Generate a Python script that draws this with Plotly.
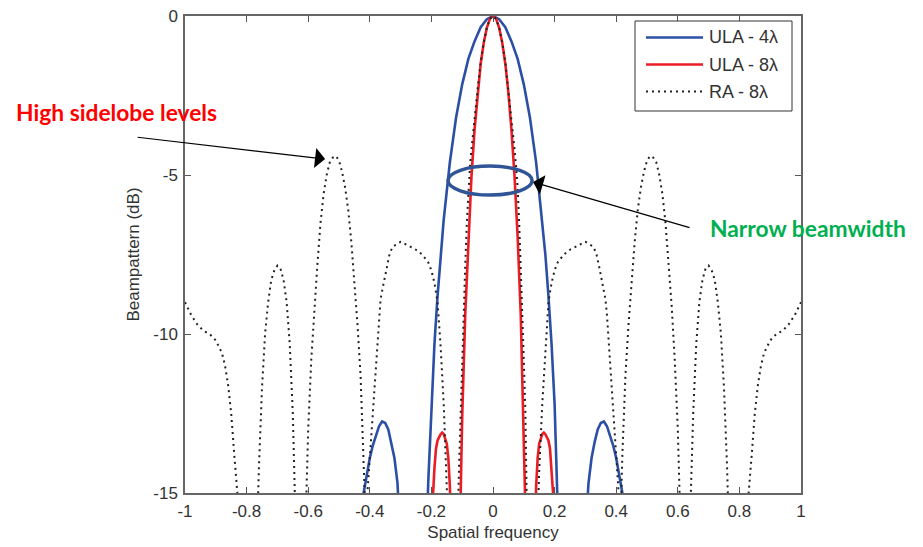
import plotly.graph_objects as go

# ---------------- data ----------------
x_ticks = [-1, -0.8, -0.6, -0.4, -0.2, 0, 0.2, 0.4, 0.6, 0.8, 1]
x_tick_text = ["-1", "-0.8", "-0.6", "-0.4", "-0.2", "0", "0.2", "0.4", "0.6", "0.8", "1"]
y_ticks = [-15, -10, -5, 0]
y_tick_text = ["-15", "-10", "-5", "0"]

# ULA - 4 lambda
ula4_u = [-0.50, -0.48, -0.46, -0.44, -0.43, -0.42, -0.41, -0.40, -0.39, -0.38, -0.37, -0.36, -0.35, -0.34,
          -0.33, -0.32, -0.31, -0.30, -0.29, -0.28, -0.26, -0.25, -0.24, -0.23, -0.22, -0.21, -0.20, -0.19,
          -0.18, -0.17, -0.16, -0.14, -0.12, -0.10, -0.08, -0.06, -0.04, -0.02, 0.00,
          0.02, 0.04, 0.06, 0.08, 0.10, 0.12, 0.14, 0.16, 0.17, 0.18, 0.19, 0.20, 0.21, 0.22, 0.23, 0.24,
          0.25, 0.26, 0.28, 0.29, 0.30, 0.31, 0.32, 0.33, 0.34, 0.35, 0.36, 0.37, 0.38, 0.39, 0.40, 0.41,
          0.42, 0.43, 0.44, 0.46, 0.48, 0.50]
ula4_db = [-40, -28, -22, -18, -16.0, -15.0, -14.4, -13.9, -13.5, -13.2, -12.9, -12.75, -12.8, -13.0,
           -13.4, -13.9, -14.7, -16.3, -18, -21, -30, -40, -30, -22, -17.5, -14.6, -12.2, -10.3,
           -8.8, -7.5, -6.4, -4.6, -3.2, -2.15, -1.35, -0.8, -0.35, -0.1, 0.0,
           -0.1, -0.35, -0.8, -1.35, -2.15, -3.2, -4.6, -6.4, -7.5, -8.8, -10.3, -12.2, -14.6, -17.5, -22, -30,
           -40, -30, -21, -18, -16.3, -14.7, -13.9, -13.4, -13.0, -12.8, -12.75, -12.9, -13.2, -13.5, -13.9, -14.4,
           -15.0, -16.0, -18, -22, -28, -40]

# ULA - 8 lambda
ula8_u = [-0.23, -0.22, -0.21, -0.20, -0.195, -0.19, -0.185, -0.18, -0.17, -0.165, -0.16, -0.15, -0.145,
          -0.14, -0.135, -0.13, -0.125, -0.12, -0.11, -0.105, -0.10, -0.09, -0.08, -0.07, -0.06, -0.05,
          -0.04, -0.03, -0.02, -0.01, 0.00,
          0.01, 0.02, 0.03, 0.04, 0.05, 0.06, 0.07, 0.08, 0.09, 0.10, 0.105, 0.11, 0.12, 0.125, 0.13, 0.135,
          0.14, 0.145, 0.15, 0.16, 0.165, 0.17, 0.18, 0.185, 0.19, 0.195, 0.20, 0.21, 0.22, 0.23]
ula8_db = [-40, -30, -20, -16.0, -15.0, -14.2, -13.6, -13.35, -13.15, -13.1, -13.15, -13.45, -13.9,
           -14.8, -17, -25, -40, -27, -17.5, -14.8, -12.6, -9.35, -6.94, -5.06, -3.59, -2.42,
           -1.5, -0.84, -0.37, -0.09, 0.0,
           -0.09, -0.37, -0.84, -1.5, -2.42, -3.59, -5.06, -6.94, -9.35, -12.6, -14.8, -17.5, -27, -40, -25, -17,
           -14.8, -13.9, -13.45, -13.15, -13.1, -13.15, -13.35, -13.6, -14.2, -15.0, -16.0, -20, -30, -40]

# RA - 8 lambda
ra8_u = [-1.00, -0.98, -0.96, -0.94, -0.92, -0.90, -0.88, -0.87, -0.86, -0.85, -0.84, -0.83, -0.82, -0.80,
         -0.78, -0.77, -0.76, -0.75, -0.74, -0.73, -0.72, -0.71, -0.70, -0.69, -0.68, -0.67, -0.66, -0.65,
         -0.64, -0.63, -0.62, -0.61, -0.60, -0.59, -0.58, -0.57, -0.56, -0.55, -0.54, -0.53, -0.52, -0.51,
         -0.50, -0.49, -0.48, -0.47, -0.46, -0.45, -0.44, -0.43, -0.42, -0.416, -0.413, -0.41, -0.40, -0.39,
         -0.38, -0.37, -0.365, -0.355, -0.345, -0.335, -0.325, -0.30, -0.275, -0.25, -0.23, -0.21, -0.20,
         -0.19, -0.18, -0.17, -0.16, -0.15, -0.14, -0.13, -0.12, -0.115, -0.11, -0.105, -0.10, -0.095,
         -0.09, -0.085, -0.08, -0.075, -0.07, -0.06, -0.05, -0.04, -0.03, -0.02, -0.01, 0.00,
         0.01, 0.02, 0.03, 0.04, 0.05, 0.06, 0.07, 0.075, 0.08, 0.085, 0.09, 0.095, 0.10, 0.105, 0.11,
         0.115, 0.12, 0.13, 0.14, 0.15, 0.16, 0.17, 0.18, 0.19, 0.20, 0.21, 0.23, 0.25, 0.275, 0.30, 0.325,
         0.335, 0.345, 0.355, 0.365, 0.37, 0.38, 0.39, 0.40, 0.41, 0.413, 0.416, 0.42, 0.43, 0.44, 0.45,
         0.46, 0.47, 0.48, 0.49, 0.50, 0.51, 0.52, 0.53, 0.54, 0.55, 0.56, 0.57, 0.58, 0.59, 0.60, 0.61,
         0.62, 0.63, 0.64, 0.65, 0.66, 0.67, 0.68, 0.69, 0.70, 0.71, 0.72, 0.73, 0.74, 0.75, 0.76, 0.77,
         0.78, 0.80, 0.82, 0.83, 0.84, 0.85, 0.86, 0.87, 0.88, 0.90, 0.92, 0.94, 0.96, 0.98, 1.00]
ra8_db = [-9.0, -9.4, -9.7, -9.9, -10.0, -10.2, -10.6, -11.0, -11.6, -12.5, -13.8, -15.0, -19.0, -28.0,
          -21.0, -17.5, -14.2, -11.7, -10.0, -9.0, -8.3, -8.0, -7.85, -7.95, -8.3, -9.0, -10.3, -12.5,
          -15.5, -19.0, -24.0, -16.5, -13.0, -10.8, -9.1, -7.8, -6.5, -5.6, -5.0, -4.6, -4.45, -4.4,
          -4.55, -4.9, -5.4, -6.1, -7.1, -8.3, -9.7, -11.3, -13.8, -15.2, -20.0, -15.3, -13.9, -12.5,
          -10.9, -9.4, -8.9, -8.4, -7.9, -7.45, -7.25, -7.1, -7.22, -7.35, -7.5, -7.75, -8.0,
          -8.4, -9.0, -10.4, -12.2, -14.3, -17.5, -28.0, -19.0, -16.0, -14.1, -12.4, -10.8, -9.2,
          -7.8, -6.5, -5.4, -4.75, -4.2, -3.2, -2.3, -1.45, -0.82, -0.36, -0.09, 0.0,
          -0.09, -0.36, -0.82, -1.45, -2.3, -3.2, -4.2, -4.75, -5.4, -6.5, -7.8, -9.2, -10.8, -12.4, -14.1,
          -16.0, -19.0, -28.0, -17.5, -14.3, -12.2, -10.4, -9.0, -8.4, -8.0, -7.75, -7.5, -7.35, -7.22, -7.1, -7.25,
          -7.45, -7.9, -8.4, -8.9, -9.4, -10.9, -12.5, -13.9, -15.3, -20.0, -15.2, -13.8, -11.3, -9.7, -8.3,
          -7.1, -6.1, -5.4, -4.9, -4.55, -4.4, -4.45, -4.6, -5.0, -5.6, -6.5, -7.8, -9.1, -10.8, -13.0, -16.5,
          -24.0, -19.0, -15.5, -12.5, -10.3, -9.0, -8.3, -7.95, -7.85, -8.0, -8.3, -9.0, -10.0, -11.7, -14.2, -17.5,
          -21.0, -28.0, -19.0, -15.0, -13.8, -12.5, -11.6, -11.0, -10.6, -10.2, -10.0, -9.9, -9.7, -9.4, -9.0]

series_names = ["ULA - 4λ", "ULA - 8λ", "RA - 8λ"]
series_colors = ["#2c4fa6", "#ea1c24", "#222222"]
series_dash = ["solid", "solid", "2px,4px"]
series_width = [2.6, 2.6, 2.0]

# ---------------- figure ----------------
FONT = "Liberation Sans, Arial, sans-serif"
AX_FONT = dict(family=FONT, size=17, color="#333333")

fig = go.Figure()
for u, db, nm, c, d, w in zip([ula4_u, ula8_u, ra8_u], [ula4_db, ula8_db, ra8_db],
                              series_names, series_colors, series_dash, series_width):
    fig.add_trace(go.Scatter(x=u, y=db, mode="lines", name=nm, showlegend=False,
                             line=dict(color=c, width=w, dash=d)))

axis_common = dict(showline=True, linecolor="#666666", linewidth=1.5, mirror="allticks",
                   ticks="inside", ticklen=6, tickwidth=1.2, tickcolor="#555555",
                   showgrid=False, zeroline=False, tickfont=AX_FONT, automargin=False,
                   ticklabeloverflow="allow")

fig.update_xaxes(range=[-1, 1], tickvals=x_ticks, ticktext=x_tick_text, ticklabelstandoff=2,
                 title=dict(text="Spatial frequency", font=AX_FONT, standoff=6), **axis_common)
fig.update_yaxes(range=[-15, 0], tickvals=y_ticks, ticktext=y_tick_text, ticklabelstandoff=2,
                 title=dict(text="Beampattern (dB)", font=AX_FONT, standoff=9), **axis_common)

# page has an 8px body margin: shift by -8px and shrink so the plot area lands where the reference has it
fig.update_layout(
    width=915, height=539,
    margin=dict(l=177, r=122, t=8, b=54),
    paper_bgcolor="white", plot_bgcolor="white",
    showlegend=False,
)

# ---- legend box drawn in paper space (long line samples as in the reference) ----
PW, PH, L0, B0 = 616.0, 477.0, 185.0, 493.0
def px(xp):
    return (xp - L0) / PW
def py(yp):
    return (B0 - yp) / PH

fig.add_shape(type="rect", xref="paper", yref="paper", x0=px(635), x1=px(792), y0=py(111), y1=py(21),
              line=dict(color="#333333", width=1), fillcolor="white", layer="above")
row_y = [37.5, 64.5, 91.5]
for i in range(3):
    fig.add_shape(type="line", xref="paper", yref="paper", x0=px(646), x1=px(703),
                  y0=py(row_y[i]), y1=py(row_y[i]),
                  line=dict(color=series_colors[i], width=series_width[i], dash=series_dash[i]))
    fig.add_annotation(xref="paper", yref="paper", x=px(707), y=py(row_y[i]), xanchor="left",
                       yanchor="middle", text=series_names[i], showarrow=False,
                       font=dict(family=FONT, size=18, color="#333333"))

# annotations: labels
fig.add_annotation(xref="paper", yref="paper", x=px(116.5), y=py(111.5), xanchor="center", yanchor="middle",
                   text="<b>High sidelobe levels</b>", showarrow=False,
                   font=dict(family="Lato, Carlito, sans-serif", size=22.8, color="#ff0000"))
fig.add_annotation(xref="paper", yref="paper", x=px(807.5), y=py(228), xanchor="center", yanchor="middle",
                   text="<b>Narrow beamwidth</b>", showarrow=False,
                   font=dict(family="Lato, Carlito, sans-serif", size=22.8, color="#00b050"))

# arrows
fig.add_annotation(xref="x", yref="y", x=-0.545, y=-4.50, text="", showarrow=True,
                   ax=-189, ay=-22, arrowhead=1, arrowsize=2.8, arrowwidth=1.2, arrowcolor="black")
fig.add_annotation(xref="x", yref="y", x=0.13, y=-5.22, text="", showarrow=True,
                   ax=158, ay=46, arrowhead=1, arrowsize=2.8, arrowwidth=1.2, arrowcolor="black")

# ellipse around the beamwidth
fig.add_shape(type="circle", xref="x", yref="y", x0=-0.146, x1=0.127, y0=-4.72, y1=-5.63,
              line=dict(color="#2f5597", width=3.5))

fig.write_html("out.html")
